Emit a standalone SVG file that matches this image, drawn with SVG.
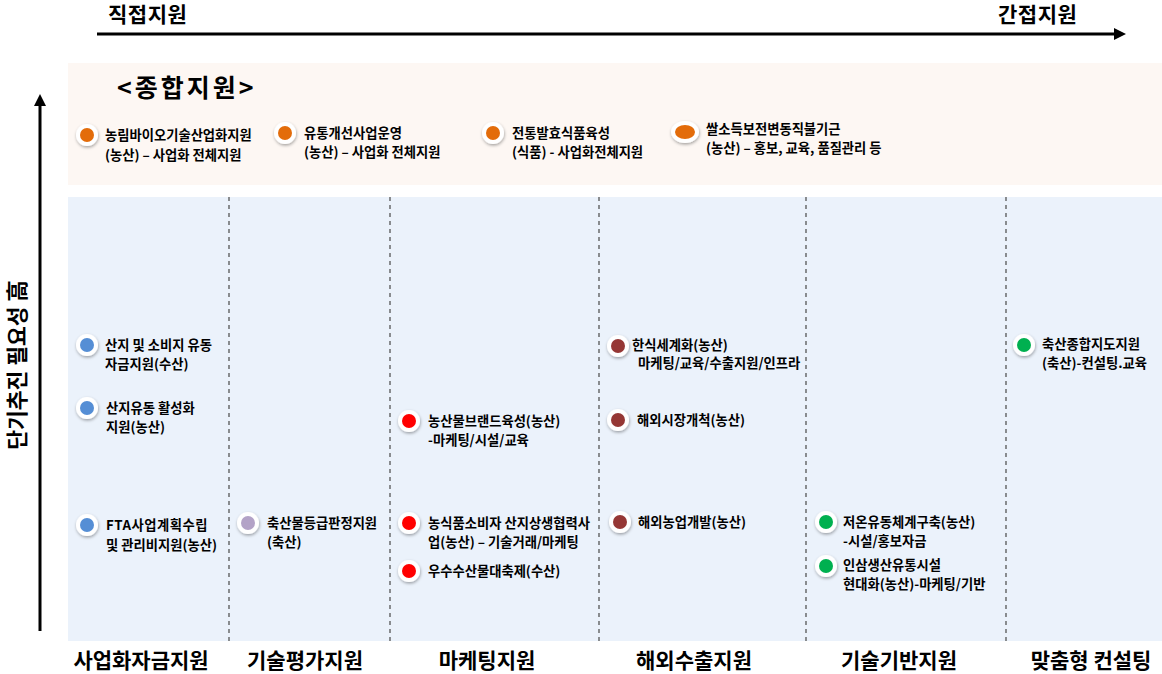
<svg xmlns="http://www.w3.org/2000/svg" width="1162" height="674" viewBox="0 0 1162 674">
<style>
text{font-family:"Noto Sans CJK KR","Noto Sans",sans-serif;font-weight:bold;fill:#000}
.it{font-size:13.3px}
.hd{font-size:21px}
.halo{fill:#fff;filter:url(#sh)}
.sep{stroke:#555;stroke-width:1.3;stroke-dasharray:4,4}
.o{fill:#E36C0A}.b{fill:#558ED5}.p{fill:#B3A2C7}.r{fill:#FF0000}.m{fill:#953735}.g{fill:#00B050}
</style>
<defs>
<filter id="sh" x="-50%" y="-50%" width="200%" height="200%">
<feDropShadow dx="0.5" dy="1.5" stdDeviation="1.5" flood-color="#000" flood-opacity="0.35"/>
</filter>
<marker id="ah" markerWidth="4" markerHeight="4" refX="2" refY="2" orient="auto" markerUnits="strokeWidth">
<path d="M0,0 L4,2 L0,4 z" fill="#000"/>
</marker>
</defs>
<rect width="1162" height="674" fill="#fff"/>
<g id="panels">
<rect x="68" y="63" width="1094" height="122" fill="#FDF7F3"/>
<rect x="68" y="197" width="1094" height="444" fill="#EBF2FB"/>
</g>
<g id="connectors">
<line x1="97" y1="34" x2="1120" y2="34" stroke="#000" stroke-width="3" marker-end="url(#ah)"/>
<line x1="40" y1="631" x2="40" y2="100" stroke="#000" stroke-width="3" marker-end="url(#ah)"/>
<line class="sep" x1="229" y1="197" x2="229" y2="641"/>
<line class="sep" x1="390" y1="197" x2="390" y2="641"/>
<line class="sep" x1="599" y1="197" x2="599" y2="641"/>
<line class="sep" x1="806" y1="197" x2="806" y2="641"/>
<line class="sep" x1="1006" y1="197" x2="1006" y2="641"/>
</g>
<g id="axis-labels">
<text class="hd" x="108" y="22" letter-spacing="0.5">직접지원</text>
<text class="hd" x="998" y="22" letter-spacing="0.5">간접지원</text>
<text class="hd" style="font-size:21.5px" transform="translate(25,365) rotate(-90)" text-anchor="middle">단기추진 필요성 高</text>
<text x="117" y="97" style="font-size:25px;letter-spacing:3px">&lt;종합지원&gt;</text>
</g>
<g id="categories">
<text class="hd" x="141" y="668" text-anchor="middle">사업화자금지원</text>
<text class="hd" x="305" y="668" text-anchor="middle">기술평가지원</text>
<text class="hd" x="487" y="668" text-anchor="middle">마케팅지원</text>
<text class="hd" x="694" y="668" text-anchor="middle">해외수출지원</text>
<text class="hd" x="899" y="668" text-anchor="middle">기술기반지원</text>
<text class="hd" x="1091" y="668" text-anchor="middle">맞춤형 컨설팅</text>
</g>
<g id="n1"><circle class="halo" cx="87" cy="135" r="11"/><circle class="o" cx="87" cy="135" r="7"/>
<text class="it" x="105" y="140">농림바이오기술산업화지원</text><text class="it" x="105" y="160">(농산) – 사업화 전체지원</text></g>
<g id="n2"><circle class="halo" cx="285" cy="133" r="11"/><circle class="o" cx="285" cy="133" r="7"/>
<text class="it" x="304" y="138">유통개선사업운영</text><text class="it" x="304" y="157">(농산) – 사업화 전체지원</text></g>
<g id="n3"><circle class="halo" cx="493" cy="133" r="11"/><circle class="o" cx="493" cy="133" r="7"/>
<text class="it" x="512" y="138">전통발효식품육성</text><text class="it" x="512" y="157">(식품) - 사업화전체지원</text></g>
<g id="n4"><ellipse class="halo" cx="685" cy="132" rx="14" ry="11"/><ellipse class="o" cx="685" cy="132" rx="10" ry="7"/>
<text class="it" x="706" y="134">쌀소득보전변동직불기근</text><text class="it" x="706" y="153">(농산) – 홍보, 교육, 품질관리 등</text></g>
<g id="n5"><circle class="halo" cx="87" cy="345" r="11"/><circle class="b" cx="87" cy="345" r="7"/>
<text class="it" x="105" y="350">산지 및 소비지 유동</text><text class="it" x="105" y="369">자금지원(수산)</text></g>
<g id="n6"><circle class="halo" cx="87" cy="408" r="11"/><circle class="b" cx="87" cy="408" r="7"/>
<text class="it" x="106" y="413">산지유동 활성화</text><text class="it" x="106" y="432">지원(농산)</text></g>
<g id="n7"><circle class="halo" cx="87" cy="525" r="11"/><circle class="b" cx="87" cy="525" r="7"/>
<text class="it" x="106" y="530" letter-spacing="0.5">FTA사업계획수립</text><text class="it" x="106" y="550">및 관리비지원(농산)</text></g>
<g id="n8"><circle class="halo" cx="248" cy="523" r="11"/><circle class="p" cx="248" cy="523" r="7"/>
<text class="it" x="267" y="528">축산물등급판정지원</text><text class="it" x="267" y="547">(축산)</text></g>
<g id="n9"><circle class="halo" cx="409" cy="421" r="11"/><circle class="r" cx="409" cy="421" r="7"/>
<text class="it" x="428" y="426">농산물브랜드육성(농산)</text><text class="it" x="428" y="445">-마케팅/시설/교육</text></g>
<g id="n10"><circle class="halo" cx="409" cy="523" r="11"/><circle class="r" cx="409" cy="523" r="7"/>
<text class="it" x="428" y="528">농식품소비자 산지상생협력사</text><text class="it" x="428" y="547">업(농산) – 기술거래/마케팅</text></g>
<g id="n11"><circle class="halo" cx="409" cy="571" r="11"/><circle class="r" cx="409" cy="571" r="7"/>
<text class="it" x="428" y="576">우수수산물대축제(수산)</text></g>
<g id="n12"><circle class="halo" cx="618" cy="346" r="11"/><circle class="m" cx="618" cy="346" r="7"/>
<text class="it" x="632" y="350">한식세계화(농산)</text><text class="it" x="638" y="368">마케팅/교육/수출지원/인프라</text></g>
<g id="n13"><circle class="halo" cx="618" cy="420" r="11"/><circle class="m" cx="618" cy="420" r="7"/>
<text class="it" x="637" y="425">해외시장개척(농산)</text></g>
<g id="n14"><circle class="halo" cx="620" cy="522" r="11"/><circle class="m" cx="620" cy="522" r="7"/>
<text class="it" x="638" y="527">해외농업개발(농산)</text></g>
<g id="n15"><circle class="halo" cx="826" cy="522" r="11"/><circle class="g" cx="826" cy="522" r="7"/>
<text class="it" x="843" y="527">저온유동체계구축(농산)</text><text class="it" x="843" y="546">-시설/홍보자금</text></g>
<g id="n16"><circle class="halo" cx="826" cy="566" r="11"/><circle class="g" cx="826" cy="566" r="7"/>
<text class="it" x="843" y="570">인삼생산유통시설</text><text class="it" x="843" y="589">현대화(농산)-마케팅/기반</text></g>
<g id="n17"><circle class="halo" cx="1024" cy="345" r="11"/><circle class="g" cx="1024" cy="345" r="7"/>
<text class="it" x="1042" y="349">축산종합지도지원</text><text class="it" x="1042" y="368">(축산)-컨설팅.교육</text></g>
</svg>
